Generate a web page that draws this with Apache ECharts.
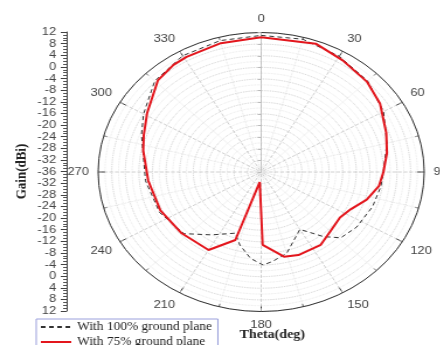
<!DOCTYPE html>
<html>
<head>
<meta charset="utf-8">
<script src="https://cdn.jsdelivr.net/npm/echarts@6/dist/echarts.min.js"></script>
<style>
  html, body { margin: 0; padding: 0; background: #fff; overflow: hidden; }
  #wrap { width: 440px; height: 345px; overflow: hidden; position: relative; }
  /* the plot is drawn stretched horizontally, so the polar grid appears as an ellipse */
  #chart { width: 377px; height: 390px; transform: scaleX(1.1685); transform-origin: 0 0; }
</style>
</head>
<body>
<div id="wrap"><div id="chart"></div></div>
<script>
// Radiation pattern, gain in dBi against theta in degrees
const seriesNames = ['With 100% ground plane', 'With 75% ground plane'];

// With 100% ground plane: theta (deg)
const thetaFull = [0, 15, 30, 45, 60, 75, 90, 98, 110, 124, 134, 140.5, 150, 165, 174, 179, 186, 194, 200, 214, 227, 245, 265, 290, 300, 315, 330, 345, 360];
// With 100% ground plane: gain (dBi)
const gainFull = [11, 11.3, 10, 8.3, 5.6, 2.3, 0, -0.4, -1.1, -2.1, -3.4, -7.2, -13.2, -7, -5, -4, -6.1, -10.1, -13.6, -9.9, -4.9, -3, -1.8, 1.5, 4, 8.3, 10.2, 10.8, 11];

// With 75% ground plane: theta (deg)
const thetaPartial = [0, 20, 32, 45, 56, 70, 80, 90, 98, 107, 116, 124, 134, 145, 159, 167, 179, 187, 198, 210, 228, 246, 265, 282, 290, 301, 316, 325, 331, 345, 360];
// With 75% ground plane: gain (dBi)
const gainPartial = [10.4, 11.0, 9.3, 8.0, 6.2, 3.2, 1.6, 0, -1.0, -3.5, -6.7, -8.0, -7.3, -5.4, -5.4, -6.1, -10.9, -32.5, -11.4, -5.0, -4.5, -3.5, -2.6, -0.5, 0.8, 3.2, 7.8, 9.0, 9.3, 9.9, 10.4];

// Gain scale: centre of the plot and outer ring
const gainMin = -36;
const gainMax = 12;
const gainStep = 4;

const pair = (thetas, gains) => thetas.map((t, i) => [gains[i], t]);

const chart = echarts.init(document.getElementById('chart'), null, { renderer: 'canvas' });
const sansFont = 'Liberation Sans, Arial, sans-serif';
const serifFont = 'Liberation Serif, Times New Roman, serif';

chart.setOption({
  animation: false,
  backgroundColor: '#fff',
  polar: { center: [223.5, 172], radius: 139.5 },
  angleAxis: {
    type: 'value', min: 0, max: 360, interval: 30,
    startAngle: 90, clockwise: true,
    axisLine: { lineStyle: { color: '#333', width: 1 } },
    axisTick: { show: true, inside: true, length: 6, lineStyle: { color: '#333' } },
    minorTick: { show: true, splitNumber: 2, length: 3, lineStyle: { color: '#555' } },
    axisLabel: {
      margin: 8, color: '#444', fontSize: 11, fontFamily: sansFont,
      formatter: v => (v === 360 ? '' : String(v))
    },
    splitLine: { show: true, lineStyle: { color: '#c4c4c4', type: 'dashed', width: 0.8 } },
    minorSplitLine: { show: true, lineStyle: { color: '#dedede', type: 'dotted', width: 0.8 } }
  },
  radiusAxis: {
    type: 'value', min: gainMin, max: gainMax, interval: gainStep,
    axisLine: { show: true, lineStyle: { color: '#bbb', width: 0.8 } },
    axisTick: { show: true, length: 3, lineStyle: { color: '#bbb' } },
    axisLabel: { show: false },
    splitLine: { show: true, lineStyle: { color: '#c8c8c8', type: 'dotted', width: 0.9 } },
    minorTick: { show: false, splitNumber: 2 },
    minorSplitLine: { show: true, lineStyle: { color: '#e2e2e2', type: 'dotted', width: 0.8 } }
  },
  grid: { left: 57, top: 32, height: 279, width: 1, containLabel: false },
  xAxis: { type: 'value', min: 0, max: 1, show: false },
  yAxis: {
    type: 'value',
    min: -(gainMax - gainMin), max: gainMax - gainMin, interval: gainStep,
    position: 'left',
    name: 'Gain(dBi)', nameLocation: 'middle', nameRotate: 90, nameGap: 32,
    nameTextStyle: { fontFamily: serifFont, fontWeight: 'bold', fontSize: 13, color: '#222' },
    axisLine: { show: true, lineStyle: { color: '#444', width: 1 } },
    axisTick: { show: true, length: 5, lineStyle: { color: '#444' } },
    minorTick: { show: true, splitNumber: 4, length: 3, lineStyle: { color: '#555' } },
    splitLine: { show: false },
    axisLabel: {
      margin: 9, color: '#444', fontSize: 11, fontFamily: sansFont,
      formatter: v => String(gainMin + Math.abs(v))
    }
  },
  legend: {
    orient: 'vertical', left: 31, top: 319,
    padding: [2, 5, 2, 3], itemGap: 3, itemWidth: 26, itemHeight: 10,
    borderColor: '#9ba0dc', borderWidth: 1, backgroundColor: '#fff',
    itemStyle: { opacity: 0 },
    textStyle: { fontFamily: serifFont, fontSize: 11.5, color: '#222' },
    data: seriesNames
  },
  graphic: [{
    type: 'text', left: 237 - 32, top: 329,
    style: { text: 'Theta(deg)', font: 'bold 12px ' + serifFont, fill: '#222' }
  }],
  series: [
    {
      name: seriesNames[0], type: 'line', coordinateSystem: 'polar',
      data: pair(thetaFull, gainFull), symbol: 'none', smooth: false,
      lineStyle: { color: '#333', width: 1, type: [4, 3] },
      itemStyle: { color: '#333' }, z: 3
    },
    {
      name: seriesNames[1], type: 'line', coordinateSystem: 'polar',
      data: pair(thetaPartial, gainPartial), symbol: 'none', smooth: false,
      lineStyle: { color: '#e3161d', width: 2 },
      itemStyle: { color: '#e3161d' }, z: 4
    }
  ]
});
</script>
</body>
</html>
